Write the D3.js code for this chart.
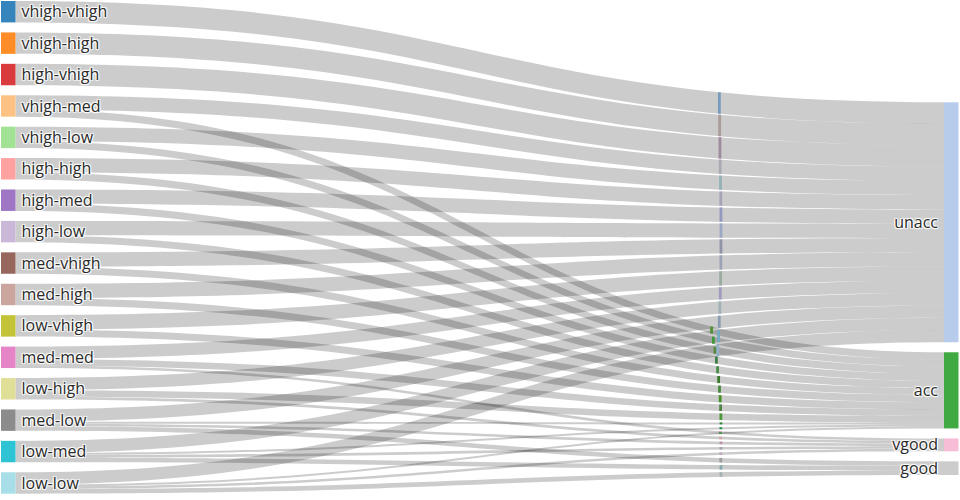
<!DOCTYPE html>
<html>
<head>
<meta charset="utf-8">
<script src="https://cdn.jsdelivr.net/npm/d3@7"></script>
<style>
  html, body { margin: 0; padding: 0; background: #fff; }
  svg { display: block; }
  .lbl { font-family: "Open Sans", sans-serif; font-size: 16px; fill: #2a2a2a;
         text-shadow: 1px 1px 1px #fff, -1px -1px 1px #fff, 1px -1px 1px #fff, -1px 1px 1px #fff; }
</style>
</head>
<body>
<svg id="chart" width="960" height="500"></svg>
<script>
// ---- data ----
const sources = ["vhigh-vhigh","vhigh-high","high-vhigh","vhigh-med","vhigh-low","high-high","high-med","high-low",
                 "med-vhigh","med-high","low-vhigh","med-med","low-high","med-low","low-med","low-low"];
const classes = ["unacc","acc","vgood","good"];
const unaccVals = [108,108,108,72,72,72,72,72,72,72,72,62,62,62,62,62];
const accVals   = [0,0,0,36,36,36,36,36,36,36,36,33,33,10,10,10];
const vgoodVals = [0,0,0,0,0,0,0,0,0,0,0,13,13,13,13,13];
const goodVals  = [0,0,0,0,0,0,0,0,0,0,0,0,0,23,23,23];
const sourceColors = ["#1f77b4","#ff7f0e","#d62728","#ffbb78","#98df8a","#ff9896","#9467bd","#c5b0d5",
                      "#8c564b","#c49c94","#bcbd22","#e377c2","#dbdb8d","#7f7f7f","#17becf","#9edae5"];
const classColors = ["#aec7e8","#2ca02c","#f7b6d2","#c7c7c7"];

// ---- layout ----
const svg = d3.select("#chart");
const valuesByClass = [unaccVals, accVals, vgoodVals, goodVals];
const total = d3.sum(unaccVals) + d3.sum(accVals) + d3.sum(vgoodVals) + d3.sum(goodVals);
const v = d3.scaleLinear().domain([0, total]).range([0, 342.7]);
const pad = 10;
const leftX0 = 1, leftX1 = 15.5, rightX0 = 944, rightX1 = 958.5;
const leftTop = 1, rightTop = 102.3;

const leftNodes = sources.map((name, i) => {
  const value = valuesByClass.reduce((s, arr) => s + arr[i], 0);
  return {name, value, color: sourceColors[i]};
});
let y = leftTop;
leftNodes.forEach(n => { n.y0 = y; n.y1 = y + v(n.value); y = n.y1 + pad; n.off = n.y0; });

const rightNodes = classes.map((name, j) => ({name, value: d3.sum(valuesByClass[j]), color: classColors[j]}));
y = rightTop;
rightNodes.forEach(n => { n.y0 = y; n.y1 = y + v(n.value); y = n.y1 + pad; n.off = n.y0; });

const links = [];
leftNodes.forEach((s, i) => {
  rightNodes.forEach((t, j) => {
    const val = valuesByClass[j][i];
    if (val > 0) links.push({s, t, i, j, value: val});
  });
});
links.forEach(l => { l.sy0 = l.s.off; l.sy1 = l.sy0 + v(l.value); l.s.off = l.sy1; });
rightNodes.forEach(t => {
  links.filter(l => l.t === t).sort((a, b) => a.i - b.i).forEach(l => {
    l.ty0 = t.off; l.ty1 = l.ty0 + v(l.value); t.off = l.ty1;
  });
});

const xm = (leftX1 + rightX0) / 2;
function linkPath(l) {
  return `M${leftX1},${l.sy0}C${xm},${l.sy0} ${xm},${l.ty0} ${rightX0},${l.ty0}` +
         `L${rightX0},${l.ty1}C${xm},${l.ty1} ${xm},${l.sy1} ${leftX1},${l.sy1}Z`;
}

svg.append("g").selectAll("path").data(links).join("path")
  .attr("d", linkPath)
  .attr("fill", "rgba(0,0,0,0.2)");

function tForX(x) {
  let lo = 0, hi = 1;
  for (let k = 0; k < 40; k++) {
    const t = (lo + hi) / 2;
    const u = 1.5 * t * (1 - t) + t * t * t;
    const xx = leftX1 + (rightX0 - leftX1) * u;
    if (xx < x) lo = t; else hi = t;
  }
  return (lo + hi) / 2;
}
const ease = t => 3 * t * t - 2 * t * t * t;
const marks = svg.append("g");
links.forEach(l => {
  const dy = ((l.ty0 + l.ty1) - (l.sy0 + l.sy1)) / 2;
  const mx = 721 - 10 * Math.pow(dy / 250, 2);
  const t = tForX(mx);
  const yt = l.sy0 + (l.ty0 - l.sy0) * ease(t);
  const yb = l.sy1 + (l.ty1 - l.sy1) * ease(t);
  const col = d3.color(d3.interpolateRgb(l.s.color, l.t.color)(0.75)).darker(0.4);
  marks.append("rect")
    .attr("x", mx - 1.4).attr("width", 2.8)
    .attr("y", yt).attr("height", Math.max(0.5, yb - yt))
    .attr("fill", col.formatHex());
});

const nodeG = svg.append("g");
nodeG.selectAll("rect.l").data(leftNodes).join("rect")
  .attr("x", leftX0).attr("width", leftX1 - leftX0)
  .attr("y", d => d.y0).attr("height", d => d.y1 - d.y0)
  .attr("fill", d => d.color).attr("fill-opacity", 0.9);
nodeG.selectAll("rect.r").data(rightNodes).join("rect")
  .attr("x", rightX0).attr("width", rightX1 - rightX0)
  .attr("y", d => d.y0).attr("height", d => d.y1 - d.y0)
  .attr("fill", d => d.color).attr("fill-opacity", 0.9);

const labG = svg.append("g");
labG.selectAll("text.l").data(leftNodes).join("text")
  .attr("class", "lbl")
  .attr("x", leftX1 + 6).attr("y", d => (d.y0 + d.y1) / 2)
  .attr("dy", "0.35em")
  .text(d => d.name);
labG.selectAll("text.r").data(rightNodes).join("text")
  .attr("class", "lbl")
  .attr("x", rightX0 - 6).attr("y", d => (d.y0 + d.y1) / 2)
  .attr("dy", "0.35em")
  .attr("text-anchor", "end")
  .text(d => d.name);
</script>
</body>
</html>
